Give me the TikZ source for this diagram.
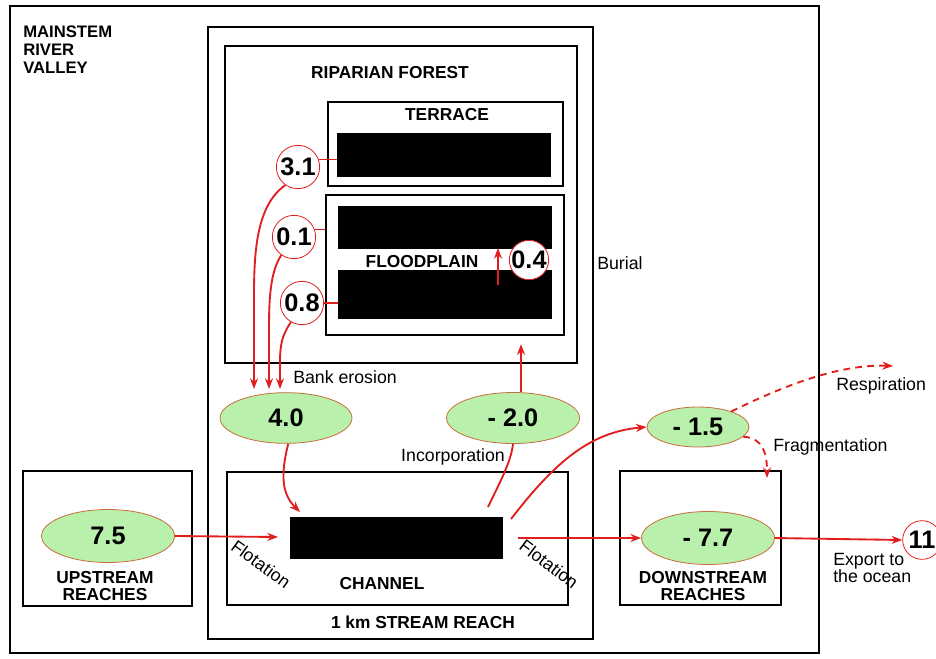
\documentclass[tikz,border=0pt]{standalone}
\usepackage{fontspec}
\setmainfont{Liberation Sans}
\usetikzlibrary{shapes.geometric,arrows.meta,fit}
\definecolor{ellfill}{RGB}{184,240,172}
\definecolor{ellline}{RGB}{200,110,60}
\definecolor{arrred}{RGB}{225,30,30}
\newcommand\lblfont{\fontsize{13}{13}\selectfont\bfseries}
\newcommand\txtfont{\fontsize{13.3}{12}\selectfont}
\newcommand\numfont{\fontsize{19}{20}\selectfont\bfseries}
\tikzset{
  boxframe/.style={draw, line width=1.8pt, inner sep=0pt},
  blackbar/.style={fill=black, draw=none, inner sep=0pt},
  ell/.style={ellipse, fill=ellfill, draw=ellline, line width=0.6pt, inner sep=0pt, font=\numfont},
  numcirc/.style={circle, fill=white, draw=arrred, line width=0.6pt, inner sep=0pt, font=\numfont},
  rline/.style={draw=arrred, line width=1.4pt},
  arr/.style={rline, -{Stealth[length=8pt,width=6pt]}},
  darr/.style={arr, dash pattern=on 5pt off 4pt},
  lbl/.style={font=\lblfont, align=center, inner sep=0pt},
  txt/.style={font=\txtfont, align=left, inner sep=0pt},
}
\begin{document}
\begin{tikzpicture}[x=0.75pt,y=-0.75pt]
\useasboundingbox (0,0) rectangle (936,658);
% frames
\node[boxframe, fit={(10,6) (819,653)}] (valley) {};
\node[boxframe, fit={(208,27) (593,639)}] (reach) {};
\node[boxframe, fit={(225,46) (577,363)}] (forest) {};
\node[boxframe, fit={(328,102) (563,186)}] (terrace) {};
\node[blackbar, fit={(337,133) (551,177)}] (tbar) {};
\node[boxframe, fit={(326,195) (564,335)}] (flood) {};
\node[blackbar, fit={(338,206) (552,249)}] (fbara) {};
\node[blackbar, fit={(338,270) (552,319)}] (fbarb) {};
\node[boxframe, fit={(227,472) (568,605)}] (channel) {};
\node[blackbar, fit={(290,517) (503,559)}] (cbar) {};
\node[boxframe, fit={(23,471) (192,606)}] (upstream) {};
\node[boxframe, fit={(620,471) (781,605)}] (downstream) {};

% labels
\node[lbl, anchor=west, align=left, font=\fontsize{12.5}{13.5}\selectfont\bfseries] (mrv) at (23,50) {MAINSTEM\\RIVER\\VALLEY};
\node[lbl] (lforest) at (390,73) {RIPARIAN FOREST};
\node[lbl] (lterrace) at (447,115) {TERRACE};
\node[lbl] (lflood) at (422,262) {FLOODPLAIN};
\node[lbl] (lchannel) at (382,584) {CHANNEL};
\node[lbl] (lreach) at (423,622) {1 km STREAM REACH};
\node[lbl] (lup) at (105,586) {UPSTREAM\\REACHES};
\node[lbl] (ldown) at (703,586) {DOWNSTREAM\\REACHES};
\node[txt, anchor=west] (lburial) at (597,263) {Burial};
\node[txt, anchor=west] (lbank) at (293,377) {Bank erosion};
\node[txt] (linc) at (453,457) {Incorporation};
\node[txt, rotate=-36] (lflotA) at (261,564) {Flotation};
\node[txt, rotate=-37] (lflotB) at (549,564) {Flotation};
\node[txt, anchor=west] (lresp) at (836,386) {Respiration};
\node[txt, anchor=west] (lfrag) at (773,447) {Fragmentation};
\node[txt, anchor=west, font=\fontsize{13.3}{12}\selectfont] (lexport) at (833,568) {Export to\\the ocean};

% ellipses
\node[ell, minimum width=99pt, minimum height=38pt] (e40) at (286,418) {4.0};
\node[ell, minimum width=99.75pt, minimum height=38.25pt] (e20) at (513,418) {- 2.0};
\node[ell, minimum width=76.5pt, minimum height=30pt] (e15) at (698,427) {- 1.5};
\node[ell, minimum width=99.75pt, minimum height=39.75pt] (e75) at (108,536) {7.5};
\node[ell, minimum width=99.75pt, minimum height=39.75pt] (e77) at (708,538) {- 7.7};

% circles
\node[numcirc, minimum size=32.5pt] (c31) at (298,167) {3.1};
\node[numcirc, minimum size=32.5pt] (c01) at (294,237) {0.1};
\node[numcirc, minimum size=32.5pt] (c08) at (302,303) {0.8};
\node[numcirc, minimum size=29pt] (c04) at (529,260) {0.4};
\node[numcirc, minimum size=29pt] (c11) at (922,540) {11};

% free-end coordinates
\coordinate (t31) at (254,389);
\coordinate (t01) at (269,389);
\coordinate (t08) at (280,389);
\coordinate (s04) at (498,285);
\coordinate (t04) at (498,248);
\coordinate (t40) at (300,512);
\coordinate (t75) at (278,537);
\coordinate (s15) at (511,519);
\coordinate (sinc) at (488,507);
\coordinate (tresp) at (893,366);
\coordinate (tfrag) at (767,478);

% bank erosion connectors
\draw[rline] (c31.20) -- (c31.20 -| tbar.west);
\draw[rline] (c01.20) -- (c01.20 -| flood.west);
\draw[rline] (c08.east) -- (c08.east -| fbarb.west);
\draw[arr] (c31.235) .. controls (257,205) and (254,250) .. (254,295) -- (t31);
\draw[arr] (c01.235) .. controls (270,272) and (269,300) .. (269,330) -- (t01);
\draw[arr] (c08.240) .. controls (282,335) and (280,345) .. (280,362) -- (t08);
% burial
\draw[arr] (s04) -- (t04);
\draw[arr, shorten >=6pt] ([xshift=6pt]e20.north) -- ([xshift=6pt]e20.north |- flood.south);
% channel inputs
\draw[arr] (e40.275) .. controls (279,480) and (284,496) .. (t40);
\draw[arr] (e75.east) -- (t75);
% channel outputs
\draw[rline] (sinc) .. controls (500,482) and (511,462) .. (e20.south);
\draw[arr] (s15) .. controls (555,462) and (590,432) .. (e15.west);
\draw[arr, shorten <=11pt] (cbar.east) -- (e77.west);
\draw[arr] (e77.east) -- (c11.west);
% fate of -1.5
\draw[darr] (e15.25) .. controls (785,385) and (840,364) .. (tresp);
\draw[darr] (e15.-12) .. controls (764,438) and (767,455) .. (tfrag);
\end{tikzpicture}
\end{document}
